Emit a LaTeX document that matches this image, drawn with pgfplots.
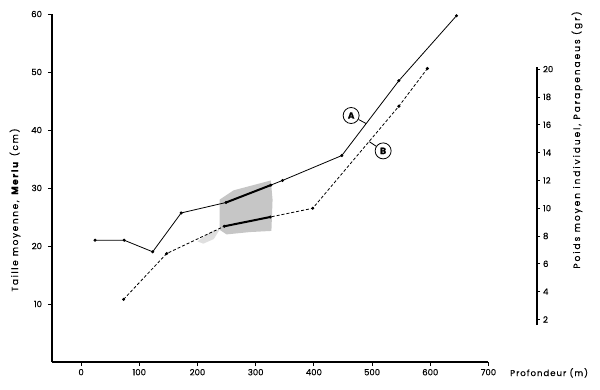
\documentclass[border=0pt]{standalone}
\usepackage{fontspec}
\setmainfont{Poppins}[FakeBold=0.5]
\usepackage{pgfplots}
\pgfplotsset{compat=1.18}
\begin{document}
\fontsize{8.5}{10}\selectfont
\begin{tikzpicture}
\useasboundingbox (-52pt,-27pt) rectangle (548pt,362pt);
\begin{axis}[at={(0,0)}, anchor=south west, scale only axis,
  width=436.5pt, height=348pt,
  xmin=-50, xmax=700, ymin=0, ymax=60, enlargelimits=false,
  axis lines=left, axis line style={-, line width=1.1pt},
  xtick={0,100,...,700}, ytick={10,20,...,60},
  tick align=outside, major tick length=4pt,
  tick style={line width=0.8pt, black},
  ticklabel style={font=\fontsize{8.5}{10}\selectfont},
  /pgf/number format/assume math mode=true,
  yticklabel style={xshift=-3pt},
  clip=false]
% shaded zone
\addplot[fill=gray!45, draw=none] coordinates {(238,28.0) (262,29.6) (326,31.3) (329,28) (327,22.6) (290,22.4) (250,22.0) (238,22.8)} -- cycle;
\addplot[fill=gray!25, draw=none] coordinates {(200,20.8) (225,22.6) (238,22.8) (228,21.2) (210,20.4)} -- cycle;
% A : Merlu
\addplot[black, line width=0.8pt, mark=*, mark size=1.1pt] coordinates {
(24,21.0) (74,21.0) (123,19.0) (172,25.7) (249,27.5) (326,30.5) (346,31.3) (448,35.6) (546,48.5) (645,59.7)};
\addplot[black, line width=2pt] coordinates {(249,27.5) (326,30.5)};
% B : Parapenaeus
\addplot[black, line width=0.8pt, dash pattern=on 3pt off 2pt, mark=*, mark size=1.1pt, mark options={solid}] coordinates {
(73,10.8) (147,18.7) (246,23.4) (325,25.0) (398,26.5) (546,44.1) (595,50.6)};
\addplot[black, line width=2pt] coordinates {(246,23.4) (325,25.0)};
\node[draw, circle, line width=0.8pt, inner sep=0pt, minimum size=16pt, font=\bfseries\fontsize{9}{10}\selectfont] (A) at (axis cs:464,42.5) {A};
\draw[line width=0.8pt] (A) -- (axis cs:490,41.1);
\node[draw, circle, line width=0.8pt, inner sep=0pt, minimum size=16pt, font=\bfseries\fontsize{9}{10}\selectfont] (B) at (axis cs:519,36.4) {B};
\draw[line width=0.8pt] (B) -- (axis cs:495,38.0);
\end{axis}
\begin{axis}[at={(484pt,37pt)}, anchor=south west, scale only axis,
  width=1pt, height=258pt,
  xmin=0, xmax=1, ymin=1.6, ymax=20.15, enlargelimits=false,
  axis x line=none, axis y line=right, axis line style={-, line width=1.1pt},
  ytick={2,4,...,20}, tick align=outside, major tick length=3pt,
  tick style={line width=0.8pt, black},
  ticklabel style={font=\fontsize{8.5}{10}\selectfont},
  /pgf/number format/assume math mode=true]
\addplot[draw=none] coordinates {(0,5)};
\end{axis}
\node[rotate=90, font={\addfontfeature{LetterSpace=18}\fontsize{9}{10}\selectfont}] at (-37pt,152pt) {Taille moyenne, \textbf{Merlu} (cm)};
\node[rotate=90, font={\addfontfeature{LetterSpace=22}\fontsize{9}{10}\selectfont}] at (525pt,222pt) {Poids moyen individuel, Parapenaeus (gr)};
\node[anchor=base west, inner sep=0pt, font={\addfontfeature{LetterSpace=12}\fontsize{8.5}{10}\selectfont}] at (458pt,-14pt) {Profondeur (m)};
\end{tikzpicture}
\end{document}
